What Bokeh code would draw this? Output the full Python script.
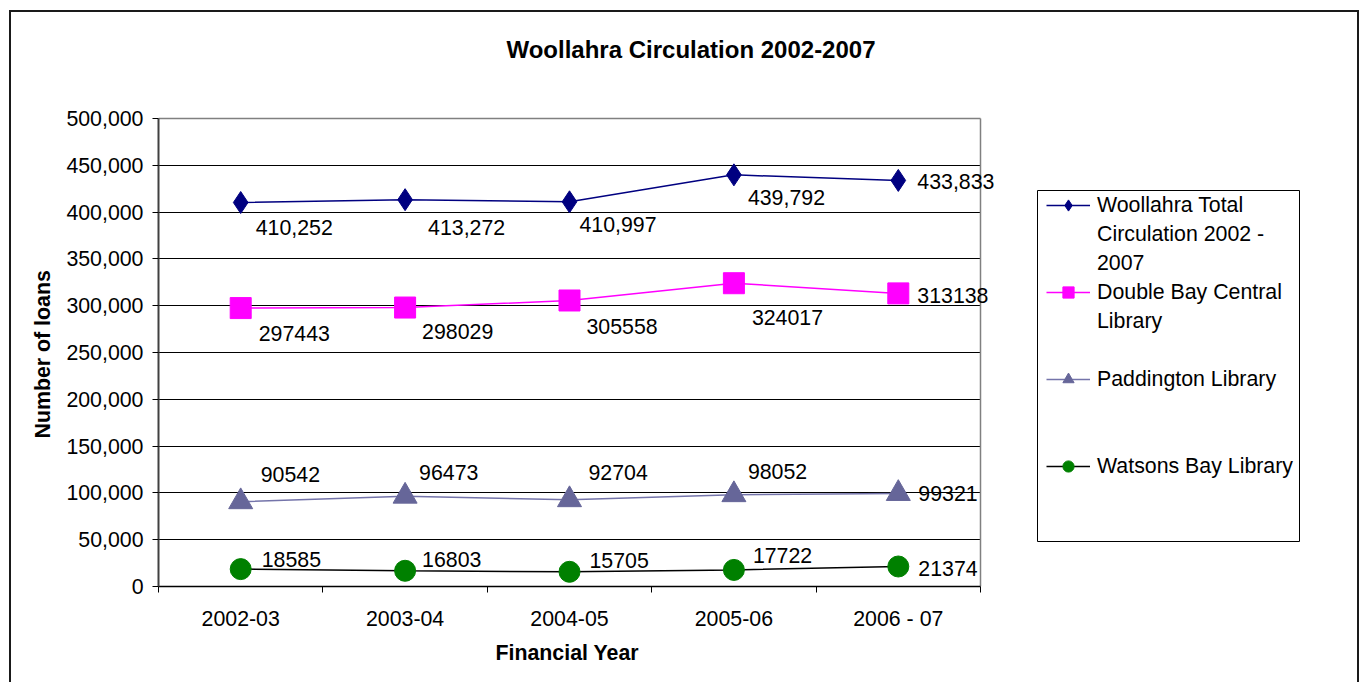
import numpy as np
from bokeh.plotting import figure
from bokeh.models import (ColumnDataSource, Range1d, FixedTicker, NumeralTickFormatter,
                          CustomJSTickFormatter, Legend, LegendItem, BoxAnnotation,
                          Grid, Label, Title)
from bokeh.embed import file_html
from bokeh.resources import INLINE
from bokeh.core.properties import value

# ---------------- data ----------------
title_text = "Woollahra Circulation 2002-2007"
x_title = "Financial Year"
y_title = "Number of loans"
years = ["2002-03", "2003-04", "2004-05", "2005-06", "2006 - 07"]
woollahra_total = [410252, 413272, 410997, 439792, 433833]
double_bay = [297443, 298029, 305558, 324017, 313138]
paddington = [90542, 96473, 92704, 98052, 99321]
watsons_bay = [18585, 16803, 15705, 17722, 21374]
y_max = 500000
y_ticks = list(range(0, y_max + 1, 50000))

# ---------------- layout / styles ----------------
FONT = "Liberation Sans"
OX, OY = 11, 12                 # canvas origin on the page (margin + css border)
CW, CH = 1350, 672              # canvas size
PL, PR, PT, PB = 158, 980, 118, 586   # plot-area box on the page

# label offsets in screen pixels (dx right, dy down)
w_dx, w_dy = [15, 23, 10, 14, 19], [25, 28, 23, 23, 1]
d_dx, d_dy = [18, 17, 17, 18, 19], [25, 24, 26, 34, 2]
p_dx, p_dy = [20, 14, 19, 14, 20], [-27, -24, -27, -23, 0]
t_dx, t_dy = [21, 17, 20, 19, 20], [-10, -11, -11, -14, 2]

n = len(years)
xs = np.arange(n) + 0.5
x_end = n * (OX + CW - PL) / (PR - PL)
y_end = y_max * (PB - OY) / (PB - PT)

p = figure(width=CW, height=CH,
           min_border_left=PL - OX, min_border_right=0,
           min_border_top=0, min_border_bottom=OY + CH - PB,
           x_range=Range1d(0, x_end), y_range=Range1d(0, y_end),
           output_backend="svg", toolbar_location=None)
p.styles = {"margin-left": "9px", "margin-top": "10px",
            "border-left": "2px solid #1a1a1a", "border-top": "2px solid #1a1a1a",
            "border-right": "2px solid #1a1a1a"}
p.background_fill_color = "white"
p.border_fill_color = "white"
p.outline_line_color = None

# chart title
p.add_layout(Label(x=688.5 - OX, y=47 - OY, x_units="canvas", y_units="canvas",
                   text=title_text, text_align="center", text_baseline="middle",
                   text_font=FONT, text_font_size="18pt", text_font_style="bold",
                   text_color="black"))

# x axis
xa = p.xaxis[0]
xa.bounds = (0, n)
xa.ticker = FixedTicker(ticks=list(xs), minor_ticks=list(range(n + 1)))
xa.formatter = CustomJSTickFormatter(args=dict(labels=years),
                                     code="const i = Math.floor(tick); return (i >= 0 && i < labels.length) ? labels[i] : '';")
xa.major_tick_out = 0
xa.major_tick_in = 0
xa.minor_tick_out = 6
xa.minor_tick_in = 0
xa.minor_tick_line_color = "black"
xa.axis_line_color = "black"
xa.axis_line_width = 1.5
xa.major_label_text_font = FONT
xa.major_label_text_font_size = "16pt"
xa.major_label_text_color = "black"
xa.major_label_standoff = 14

# y axis
ya = p.yaxis[0]
ya.bounds = (0, y_max)
ya.ticker = FixedTicker(ticks=y_ticks)
ya.formatter = NumeralTickFormatter(format="0,0")
ya.major_tick_out = 6
ya.major_tick_in = 0
ya.major_tick_line_color = "black"
ya.minor_tick_line_color = None
ya.axis_line_color = "#404040"
ya.axis_line_width = 2
ya.major_label_text_font = FONT
ya.major_label_text_font_size = "16pt"
ya.major_label_text_color = "black"
ya.major_label_standoff = 9

# axis titles, centred on the plot area
p.add_layout(Title(text=x_title, align="left", offset=337, vertical_align="top", standoff=15,
                   text_font=FONT, text_font_size="16pt", text_font_style="bold",
                   text_color="black"), "below")
p.add_layout(Title(text=y_title, align="left", offset=148, vertical_align="bottom", standoff=17,
                   text_font=FONT, text_font_size="16pt", text_font_style="bold",
                   text_color="black"), "left")

# grid lines limited to the plot area, plus its grey top/right border
p.xgrid.visible = False
p.ygrid.ticker = FixedTicker(ticks=y_ticks[1:-1])
p.ygrid.cross_bounds = (0, n)
p.ygrid.grid_line_color = "black"
p.ygrid.grid_line_width = 1
p.add_layout(Grid(dimension=1, ticker=FixedTicker(ticks=[y_max]), cross_bounds=(0, n),
                  grid_line_color="#808080", grid_line_width=1.5))
p.add_layout(Grid(dimension=0, ticker=FixedTicker(ticks=[n]), cross_bounds=(0, y_max),
                  grid_line_color="#808080", grid_line_width=1.5))

# series
def series(vals, mcolor, marker, size, lcolor, texts, dx, dy):
    ln = p.line(xs, vals, line_color=lcolor, line_width=1.5)
    sc = p.scatter(xs, vals, marker=marker, size=size,
                   fill_color=mcolor, line_color=mcolor)
    src = ColumnDataSource(dict(x=xs, y=vals, text=texts, dx=dx, dy=dy))
    p.text(x="x", y="y", text="text", x_offset="dx", y_offset="dy", source=src,
           text_font=value(FONT), text_font_size="16pt", text_color="black",
           text_align="left", text_baseline="middle")
    return [ln, sc]

r_w = series(woollahra_total, "#000080", "diamond", 22, "#000080",
             [f"{v:,}" for v in woollahra_total], w_dx, w_dy)
r_d = series(double_bay, "#FF00FF", "square", 21, "#FF00FF",
             [str(v) for v in double_bay], d_dx, d_dy)
r_p = series(paddington, "#666699", "triangle", 24, "#7474AA",
             [str(v) for v in paddington], p_dx, p_dy)
r_t = series(watsons_bay, "#008000", "circle", 21, "black",
             [str(v) for v in watsons_bay], t_dx, t_dy)

items = [
    LegendItem(label="Woollahra Total", renderers=r_w),
    LegendItem(label="Circulation 2002 -", renderers=[]),
    LegendItem(label="2007", renderers=[]),
    LegendItem(label="Double Bay Central", renderers=r_d),
    LegendItem(label="Library", renderers=[]),
    LegendItem(label=" ", renderers=[]),
    LegendItem(label="Paddington Library", renderers=r_p),
    LegendItem(label=" ", renderers=[]),
    LegendItem(label=" ", renderers=[]),
    LegendItem(label="Watsons Bay Library", renderers=r_t),
]
legend = Legend(items=items, location=(1046 - PL, PB - 480.5), padding=0, margin=0, spacing=0,
                label_height=29, glyph_height=28, glyph_width=44, label_standoff=7,
                border_line_alpha=0, background_fill_alpha=0,
                label_text_font=FONT, label_text_font_size="16pt", label_text_color="black")
p.add_layout(legend)

# legend frame
p.add_layout(BoxAnnotation(left=1035 - OX, right=1297 - OX, top=188 - OY, bottom=539 - OY,
                           left_units="canvas", right_units="canvas",
                           top_units="canvas", bottom_units="canvas",
                           fill_alpha=0, line_color="black", line_width=1, line_alpha=1))

open("out.html", "w").write(file_html(p, INLINE))
